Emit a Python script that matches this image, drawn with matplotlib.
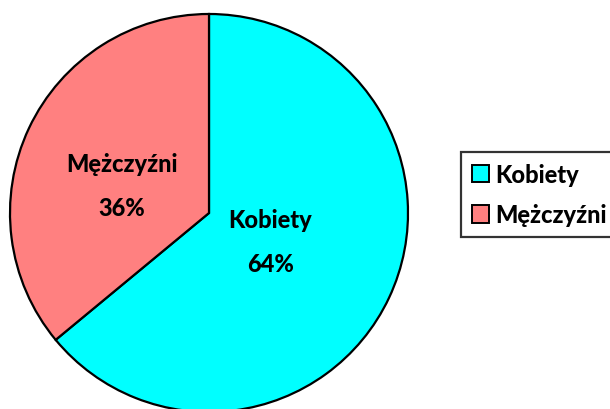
import numpy as np
import matplotlib
matplotlib.use('Agg')
from matplotlib import pyplot as plt
from matplotlib.patches import Patch

plt.rcParams['font.family'] = ['Lato', 'DejaVu Sans']

labels = ['Kobiety', 'Mężczyźni']
values = [64, 36]
colors = ['#00FFFF', '#FF8080']
# label position inside wedge (fraction of radius), per wedge
label_r = [0.34, 0.46]

fig = plt.figure(figsize=(6.1, 4.1), dpi=100)
ax = fig.add_axes([9/610, -4/410, 400/610, 400/410])
wedges, _ = ax.pie(values, colors=colors, startangle=90, counterclock=False,
                   wedgeprops=dict(edgecolor='black', linewidth=1.6))
ax.set_xlim(-1.005, 1.005)
ax.set_ylim(-1.005, 1.005)
ax.set_aspect('equal')

tot = sum(values)
for i, w in enumerate(wedges):
    mid = np.deg2rad((w.theta1 + w.theta2) / 2)
    ang_off = 8 if i == 1 else 0
    mid = mid + np.deg2rad(ang_off)
    x = label_r[i] * np.cos(mid)
    y = label_r[i] * np.sin(mid)
    ax.text(x, y, '%s\n\n%d%%' % (labels[i], round(values[i] * 100 / tot)),
            ha='center', va='center', fontsize=17, fontweight='black',
            linespacing=0.95)

handles = [Patch(facecolor=c, edgecolor='black', linewidth=1.4) for c in colors]
leg = fig.legend(handles, labels, loc='upper left', bbox_to_anchor=(461/610, 1 - 153/410),
                 frameon=True, fancybox=False, edgecolor='black', fontsize=17,
                 handlelength=0.75, handleheight=0.75,
                 handletextpad=0.25, borderpad=0.45, labelspacing=0.75, borderaxespad=0)
leg.get_frame().set_linewidth(1.6)
for t in leg.get_texts():
    t.set_fontweight('black')

fig.savefig('out.png', dpi=100)
